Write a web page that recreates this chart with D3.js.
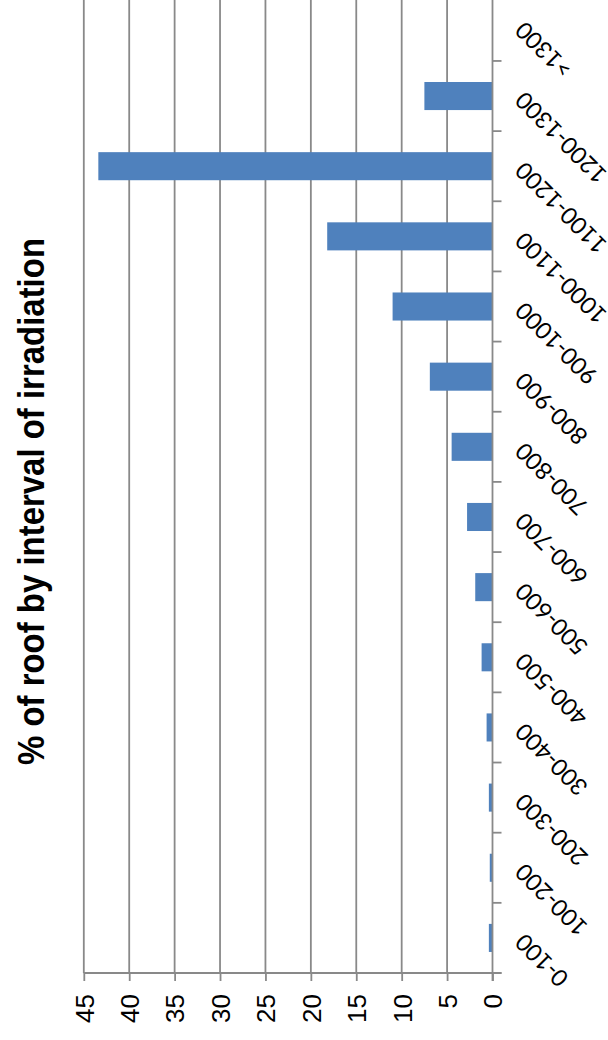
<!DOCTYPE html>
<html>
<head>
<meta charset="utf-8">
<script src="https://cdn.jsdelivr.net/npm/d3@7"></script>
<style>
  html, body { margin: 0; padding: 0; background: #fff; }
  svg { display: block; }
</style>
</head>
<body>
<svg id="chart" width="608" height="1040"></svg>
<script>
// Share of roof area per annual irradiation interval (kWh/m²)
const categories = ["0-100", "100-200", "200-300", "300-400", "400-500", "500-600",
  "600-700", "700-800", "800-900", "900-1000", "1000-1100", "1100-1200", "1200-1300", ">1300"];
const percentages = [0.4, 0.3, 0.4, 0.65, 1.2, 1.9, 2.8, 4.5, 6.9, 11.0, 18.2, 43.4, 7.5, 0];
const valueTicks = [0, 5, 10, 15, 20, 25, 30, 35, 40, 45];
const titleText = "% of roof by interval of irradiation";

const svg = d3.select("#chart");

// The column chart is laid out turned a quarter turn: values grow to the left,
// categories run from the bottom upwards.
const x = d3.scaleLinear().domain([0, 45]).range([492.5, 83.8]);
const y = d3.scaleBand().domain(categories).range([973, -9.2])
  .paddingInner(0.6).paddingOuter(0.3);

const gridColor = "#898989";

// Vertical gridlines
svg.append("g")
  .selectAll("line")
  .data(valueTicks.filter(d => d > 0))
  .join("line")
  .attr("x1", d => x(d)).attr("x2", d => x(d))
  .attr("y1", -10).attr("y2", 973)
  .attr("stroke", gridColor).attr("stroke-width", 1.8);

// Bars
svg.append("g")
  .selectAll("rect")
  .data(categories.map((c, i) => ({ c, v: percentages[i] })).filter(d => d.v > 0))
  .join("rect")
  .attr("x", d => x(d.v))
  .attr("y", d => y(d.c))
  .attr("width", d => x(0) - x(d.v))
  .attr("height", y.bandwidth())
  .attr("fill", "#4F81BD");

// Value axis (bottom)
const valueAxis = svg.append("g").attr("transform", "translate(0,973)");
valueAxis.call(d3.axisBottom(x).tickValues(valueTicks).tickSize(8).tickFormat(""));
valueAxis.select(".domain").remove();
valueAxis.selectAll(".tick line").attr("stroke", gridColor).attr("stroke-width", 1.8);
valueAxis.append("line")
  .attr("x1", x(45)).attr("x2", 501.5).attr("y1", 0).attr("y2", 0)
  .attr("stroke", gridColor).attr("stroke-width", 1.8);
valueAxis.selectAll(".tick")
  .append("text")
  .attr("transform", "translate(0,21) rotate(-90)")
  .attr("text-anchor", "end")
  .attr("dy", "0.36em")
  .attr("fill", "#000")
  .attr("font-family", "'Liberation Sans', Arial, sans-serif")
  .attr("font-size", 26)
  .text(d => d);

// Category axis (right of the bars)
const catAxis = svg.append("g");
catAxis.append("line")
  .attr("x1", x(0)).attr("x2", x(0)).attr("y1", -10).attr("y2", 981)
  .attr("stroke", gridColor).attr("stroke-width", 1.8);
const boundaries = d3.range(categories.length + 1).map(i => 973 - i * y.step());
catAxis.selectAll("line.tick")
  .data(boundaries)
  .join("line")
  .attr("class", "tick")
  .attr("x1", x(0)).attr("x2", x(0) + 9)
  .attr("y1", d => d).attr("y2", d => d)
  .attr("stroke", gridColor).attr("stroke-width", 1.8);

catAxis.selectAll("text")
  .data(categories)
  .join("text")
  .attr("transform", d => `translate(${x(0) + 27},${y(d) + y.bandwidth() / 2}) rotate(-135)`)
  .attr("text-anchor", "end")
  .attr("dy", "0.35em")
  .attr("fill", "#000")
  .attr("font-family", "Lato, 'DejaVu Sans', sans-serif")
  .attr("font-size", 23.5)
  .text(d => d);

// Title along the left edge
svg.append("text")
  .attr("transform", `translate(31,${(238 + 765) / 2}) rotate(-90)`)
  .attr("text-anchor", "middle")
  .attr("dy", "0.36em")
  .attr("fill", "#000")
  .attr("font-family", "'Liberation Sans', Arial, sans-serif")
  .attr("font-weight", "bold")
  .attr("font-size", 37)
  .attr("textLength", 527)
  .attr("lengthAdjust", "spacingAndGlyphs")
  .text(titleText);
</script>
</body>
</html>
